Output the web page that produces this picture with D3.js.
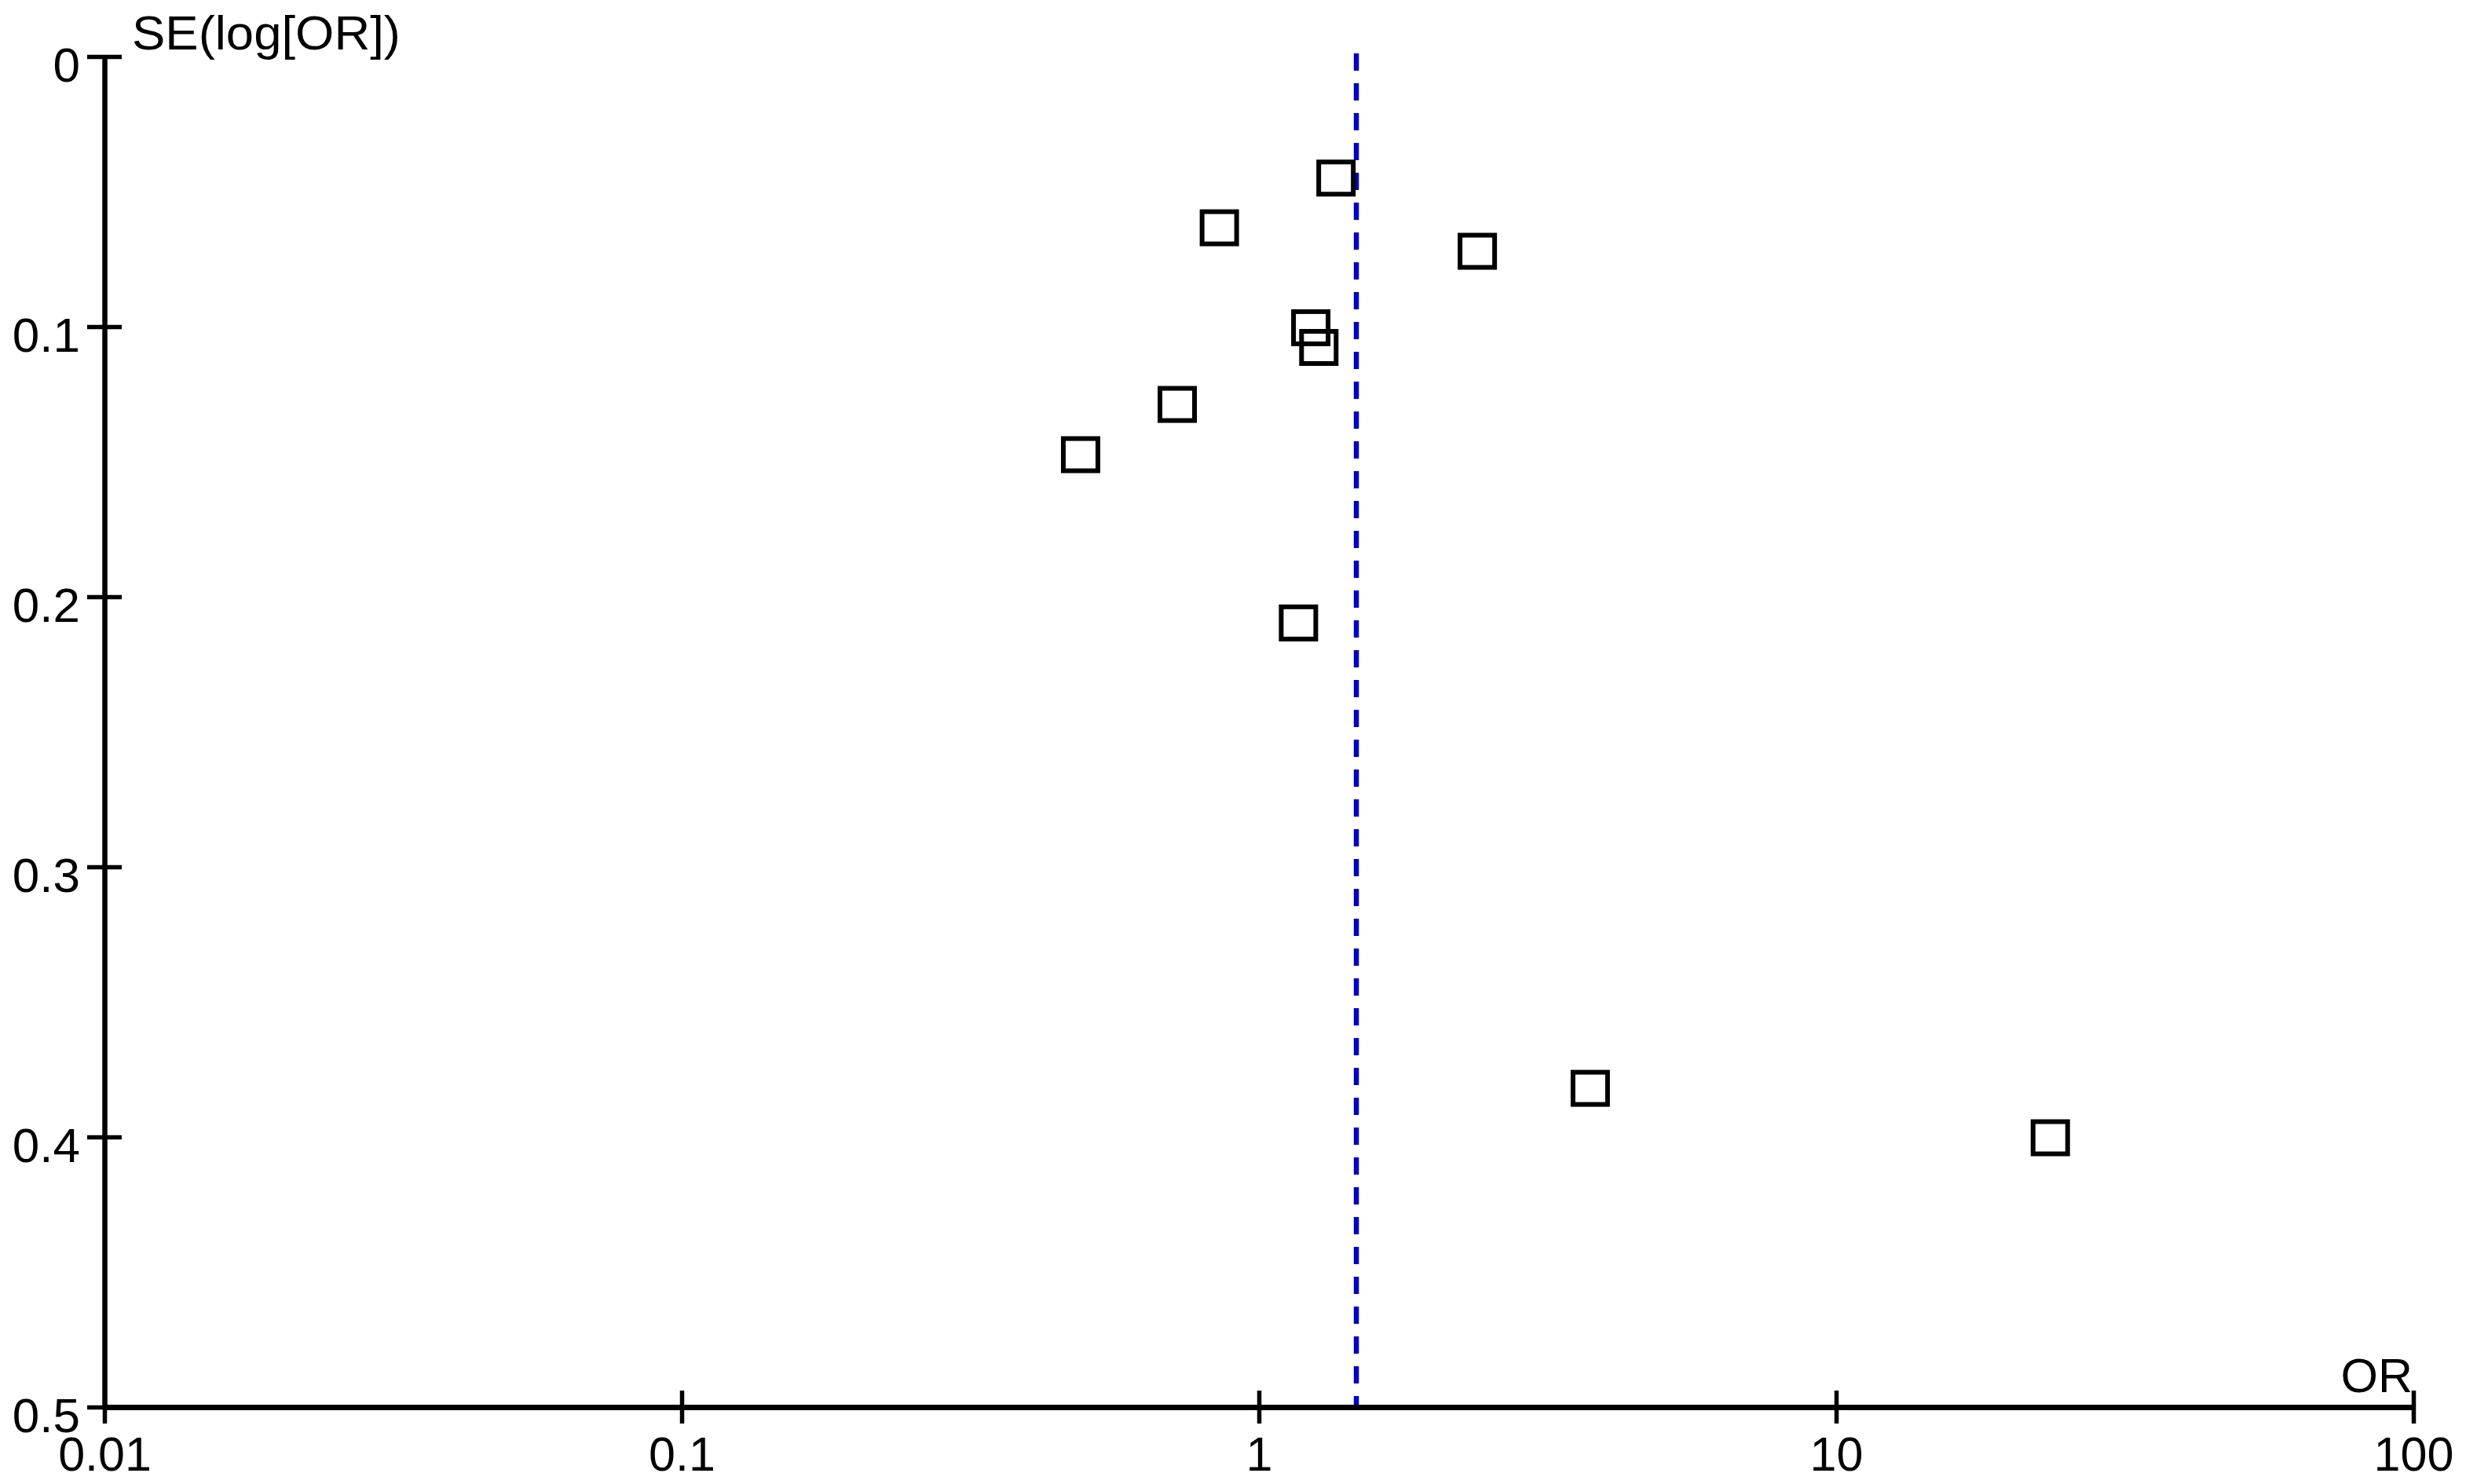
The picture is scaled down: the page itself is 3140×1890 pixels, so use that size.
<!DOCTYPE html>
<html>
<head>
<meta charset="utf-8">
<script src="https://cdn.jsdelivr.net/npm/d3@7"></script>
<style>
  html, body { margin: 0; padding: 0; background: #ffffff; }
  svg { display: block; }
  text { font-family: "Liberation Sans", Arial, sans-serif; fill: #000; }
</style>
</head>
<body>
<svg id="chart" width="3140" height="1890"></svg>
<script>
// ---- data ----
const studyOR = [1.36, 0.854, 2.39, 1.23, 1.27, 0.722, 0.491, 1.171, 3.75, 23.5];
const studySE = [0.045, 0.0634, 0.0721, 0.1004, 0.1077, 0.1288, 0.1474, 0.2097, 0.382, 0.4003];
const pooledOR = 1.475;
const xTickValues = [0.01, 0.1, 1, 10, 100];
const xTickLabels = ["0.01", "0.1", "1", "10", "100"];
const yTickValues = [0, 0.1, 0.2, 0.3, 0.4, 0.5];
const yTickLabels = ["0", "0.1", "0.2", "0.3", "0.4", "0.5"];
const xTitle = "OR";
const yTitle = "SE(log[OR])";

const svg = d3.select("#chart");
svg.append("rect").attr("width", 3140).attr("height", 1890).attr("fill", "#fff");

const x = d3.scaleLog().domain([0.01, 100]).range([133, 3073]);
const y = d3.scaleLinear().domain([0, 0.5]).range([72, 1792]);

// pooled estimate dashed line
svg.append("line")
  .attr("x1", x(pooledOR)).attr("x2", x(pooledOR))
  .attr("y1", 68).attr("y2", y(0.5))
  .attr("stroke", "#0000c0").attr("stroke-width", 6.5)
  .attr("stroke-dasharray", "22 16");

// y axis
const yAxis = d3.axisLeft(y)
  .tickValues(yTickValues)
  .tickFormat((d, i) => yTickLabels[i])
  .tickSizeOuter(0);
const gy = svg.append("g").attr("transform", `translate(${x(0.01)},0)`).call(yAxis);
gy.select(".domain").attr("stroke", "#000").attr("stroke-width", 6.5);
gy.selectAll(".tick line").attr("x1", -22).attr("x2", 22).attr("stroke", "#000").attr("stroke-width", 5.5);
gy.selectAll(".tick text")
  .attr("x", -31).attr("dy", 31)
  .attr("font-size", 62).attr("font-family", "Liberation Sans, Arial, sans-serif")
  .attr("fill", "#000");

// x axis
const xAxis = d3.axisBottom(x)
  .tickValues(xTickValues)
  .tickFormat((d, i) => xTickLabels[i])
  .tickSizeOuter(0);
const gx = svg.append("g").attr("transform", `translate(0,${y(0.5)})`).call(xAxis);
gx.select(".domain").attr("stroke", "#000").attr("stroke-width", 7);
gx.selectAll(".tick line").attr("y1", -21).attr("y2", 21).attr("stroke", "#000").attr("stroke-width", 5.5);
gx.selectAll(".tick line").filter(d => d === 0.01).attr("y1", 0);
gx.selectAll(".tick text")
  .attr("y", 81).attr("dy", 0)
  .attr("font-size", 61).attr("font-family", "Liberation Sans, Arial, sans-serif")
  .attr("fill", "#000");

// axis titles
svg.append("text")
  .attr("x", x(100) - 1).attr("y", 1773)
  .attr("text-anchor", "end")
  .attr("font-size", 61)
  .text(xTitle);
svg.append("text")
  .attr("x", 168).attr("y", 63)
  .attr("font-size", 61)
  .attr("textLength", 342).attr("lengthAdjust", "spacingAndGlyphs")
  .text(yTitle);

// study squares
const pts = studyOR.map((d, i) => ({ or: d, se: studySE[i] }));
svg.append("g").selectAll("rect.pt")
  .data(pts).enter().append("rect")
  .attr("class", "pt")
  .attr("x", d => x(d.or) - 22)
  .attr("y", d => y(d.se) - 20.5)
  .attr("width", 44).attr("height", 41)
  .attr("fill", "none")
  .attr("stroke", "#000").attr("stroke-width", 6);
</script>
</body>
</html>
